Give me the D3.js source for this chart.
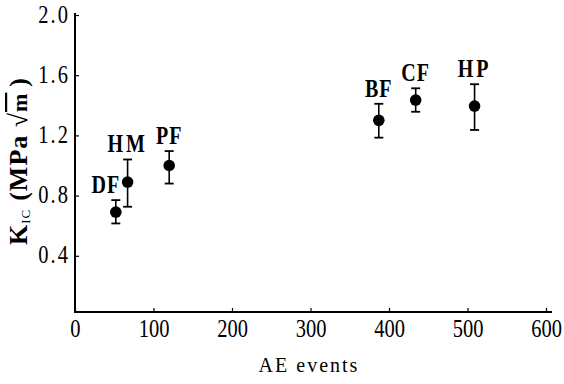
<!DOCTYPE html>
<html><head><meta charset="utf-8">
<script src="https://cdn.jsdelivr.net/npm/d3@7"></script>
<style>body{margin:0;background:#fff}svg{display:block}</style>
</head><body>
<svg id="c" width="564" height="384"></svg>
<script>
const categories = ["DF","HM","PF","BF","CF","HP"];
const aeEvents  = [52, 67, 120, 387, 434, 509];
const kic       = [0.69, 0.89, 1.00, 1.30, 1.435, 1.395];
const errLow    = [0.615, 0.726, 0.88, 1.185, 1.357, 1.236];
const errHigh   = [0.77, 1.04, 1.096, 1.41, 1.513, 1.54];
const xTicks = [0,100,200,300,400,500,600];
const yTicks = [0.4,0.8,1.2,1.6,2.0];

const svg = d3.select("#c");
const x = d3.scaleLinear().domain([0,600]).range([75,546]);
const y = d3.scaleLinear().domain([0,2]).range([316,15]);
const axisY = 312;
const serif = "'Liberation Serif','Times New Roman',serif";
const stretch = 1.22;

function stext(parent, tx, ty, str, size, anchor, bold, ls){
  const g = parent.append("g").attr("transform",`translate(${tx},${ty}) scale(1,${stretch})`);
  return g.append("text").attr("text-anchor",anchor).attr("font-family",serif)
    .attr("font-size",size).attr("font-weight",bold?"bold":"normal")
    .attr("letter-spacing",ls||0).attr("fill","#000").text(str);
}

// x axis
const gx = svg.append("g").attr("transform",`translate(0,${axisY})`)
  .call(d3.axisBottom(x).tickValues(xTicks).tickSizeInner(-4).tickSizeOuter(0).tickFormat(""));
gx.select(".domain").remove();
gx.selectAll("line").attr("stroke","#000").attr("stroke-width",1.2);
gx.selectAll(".tick text").remove();
gx.selectAll(".tick").each(function(d){ stext(d3.select(this), 0, 25, d3.format("d")(d), 20.5, "middle", false, 0); });
svg.append("line").attr("x1",x(0)).attr("x2",552).attr("y1",axisY).attr("y2",axisY).attr("stroke","#000").attr("stroke-width",2);

// y axis
const gy = svg.append("g").attr("transform",`translate(${x(0)},0)`)
  .call(d3.axisLeft(y).tickValues(yTicks).tickSizeInner(-4).tickSizeOuter(0).tickFormat(""));
gy.select(".domain").remove();
gy.selectAll("line").attr("stroke","#000").attr("stroke-width",1.2);
gy.selectAll(".tick text").remove();
gy.selectAll(".tick").each(function(d){ stext(d3.select(this), -5, 7, d3.format(".1f")(d), 20.5, "end", false, 2); });
svg.append("line").attr("x1",x(0)).attr("x2",x(0)).attr("y1",axisY+1).attr("y2",13).attr("stroke","#000").attr("stroke-width",2);

// error bars
const pts = categories.map((c,i)=>({c, x:aeEvents[i], y:kic[i], lo:errLow[i], hi:errHigh[i]}));
const eb = svg.append("g");
pts.forEach(p=>{
  const cx = x(p.x);
  eb.append("line").attr("x1",cx).attr("x2",cx).attr("y1",y(p.lo)).attr("y2",y(p.hi)).attr("stroke","#000").attr("stroke-width",1.6);
  [p.lo,p.hi].forEach(v=>eb.append("line").attr("x1",cx-4.5).attr("x2",cx+4.5).attr("y1",y(v)).attr("y2",y(v)).attr("stroke","#000").attr("stroke-width",1.8));
});
svg.append("g").selectAll("circle").data(pts).join("circle")
  .attr("cx",d=>x(d.x)).attr("cy",d=>y(d.y)).attr("r",5.8).attr("fill","#000");

// point labels
const lg = svg.append("g");
pts.forEach(d=>{
  const lx = d.c==="DF" ? x(d.x)-10 : x(d.x);
  const ly = d.c==="DF" ? y(d.y)-19 : y(d.hi)-7;
  stext(lg, lx, ly, d.c, 20, "middle", true, (d.c==="HM"||d.c==="HP")?3:1);
});

// axis titles
svg.append("text").attr("x",309).attr("y",372).attr("text-anchor","middle")
  .attr("font-family",serif).attr("font-size",20).attr("letter-spacing",2).text("AE events");
const yt = svg.append("text").attr("transform","translate(27,161) rotate(-90)").attr("text-anchor","middle")
  .attr("font-family",serif).attr("font-weight","bold").attr("font-size",26).attr("letter-spacing",1);
yt.append("tspan").text("K");
yt.append("tspan").attr("font-size",13).attr("font-weight","normal").attr("dy",3).text("IC");
yt.append("tspan").attr("dy",-3).attr("dx",8).text("(MPa \u221A");
yt.append("tspan").attr("text-decoration","overline").attr("font-size",22).text("m");
yt.append("tspan").attr("dx",6).text(")");
</script>
</body></html>
